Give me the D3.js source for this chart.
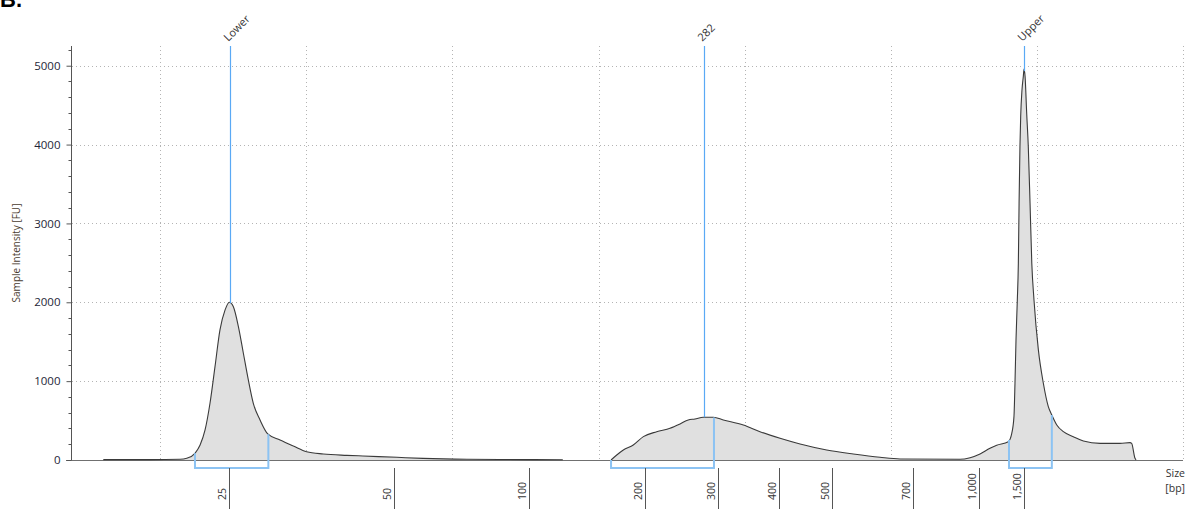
<!DOCTYPE html>
<html>
<head>
<meta charset="utf-8">
<script src="https://cdn.jsdelivr.net/npm/d3@7/dist/d3.min.js"></script>
<style>
  html, body { margin: 0; padding: 0; background: #fff; }
  svg { display: block; font-family: "Open Sans", "Noto Sans", "DejaVu Sans", sans-serif; }
</style>
</head>
<body>
<svg id="chart" width="1195" height="509"></svg>
<script>
// Electropherogram: migration time (s) vs. fluorescence (FU)
const curveTime = [
  46.12, 49.32, 51.37, 51.83, 52.39, 52.74, 53.08, 53.42, 53.76, 54.10, 54.45, 54.74,
  55.01, 55.36, 55.70, 56.04, 56.38, 56.84, 57.37, 58.21, 59.12, 60.03, 61.17, 62.77,
  63.88, 66.21, 67.99, 70.99, 73.25, 77.55,
  79.00,
  80.85, 81.24, 81.69, 82.37, 83.06, 83.97, 84.88, 85.57, 86.13, 86.59, 87.16, 87.85,
  88.53, 89.90, 91.04, 92.41, 93.78, 95.60, 97.42, 99.25, 100.62, 104.72, 105.41,
  106.09, 106.77, 107.23, 108.02, 108.26, 108.41, 108.48, 108.55, 108.64, 108.71,
  108.76, 108.82, 108.87, 108.96, 109.05, 109.10, 109.17, 109.28, 109.39, 109.51,
  109.63, 109.78, 110.08, 110.42, 110.76, 111.00, 111.34, 111.79, 112.47, 113.16,
  114.30, 115.66, 116.35, 116.46, 116.69, 116.76
];
const curveFU = [
  5, 5, 9, 21, 85, 190, 381, 723, 1184, 1650, 1903, 2001,
  1946, 1692, 1354, 1015, 719, 508, 330, 254, 178, 105, 76, 59,
  51, 34, 21, 9, 6, 4,
  null,
  0, 63, 127, 190, 296, 359, 402, 457, 508, 520, 542, 542,
  508, 444, 359, 275, 203, 127, 76, 34, 13, 9, 29,
  76, 148, 186, 232, 339, 550, 973, 1523, 2030, 2496,
  3257, 3976, 4356, 4695, 4865, 4958, 4865, 4399, 3976, 3257,
  2496, 2030, 1396, 973, 677, 571, 444, 359, 296, 241,
  211, 211, 220, 211, 21, 0
];

// Ladder calibration: fragment size (bp) and its migration time (s)
const ladderSize = [25, 50, 100, 200, 300, 400, 500, 700, 1000, 1500];
const ladderTime = [54.74, 66.03, 75.22, 83.19, 88.15, 92.34, 95.94, 101.53, 106.04, 109.12];

// Called peaks and their integration windows
const peakLabels = ["Lower", "282", "Upper"];
const peakTime = [54.81, 87.23, 109.12];
const regionStart = [52.39, 80.85, 108.07];
const regionEnd = [57.41, 87.89, 111.00];

const yTicks = [0, 1000, 2000, 3000, 4000, 5000];
const timeGrid = [50, 60, 70, 80, 90, 100, 110, 120];

const svg = d3.select("#chart");

const x = d3.scaleLinear().domain([43.91, 120]).range([71, 1183.4]);
const y = d3.scaleLinear().domain([0, 5250]).range([460, 46]);
const sizeToTime = d3.scaleLinear().domain(ladderSize).range(ladderTime);
const sizeScale = v => x(sizeToTime(v));

const data = curveTime.map((t, i) => ({ t, fu: curveFU[i] }));
const valid = data.filter(d => d.fu != null);
const bis = d3.bisector(d => d.t).left;
function valueAt(t) {
  const i = bis(valid, t);
  if (i <= 0) return valid[0].fu;
  if (i >= valid.length) return valid[valid.length - 1].fu;
  const a = valid[i - 1], b = valid[i];
  return a.fu + (b.fu - a.fu) * (t - a.t) / (b.t - a.t);
}

// Panel letter
svg.append("text").attr("x", 0).attr("y", 7)
  .attr("font-size", 22).attr("font-weight", "bold").attr("fill", "#000")
  .attr("font-family", "Liberation Sans, Arial, sans-serif").text("B.");

// Grid
const grid = svg.append("g").attr("stroke", "#b4b4b4").attr("stroke-dasharray", "1,3").attr("stroke-width", 1);
grid.selectAll("line.h").data(yTicks.filter(v => v > 0)).join("line")
  .attr("x1", 72).attr("x2", 1183).attr("y1", d => Math.round(y(d)) + 0.5).attr("y2", d => Math.round(y(d)) + 0.5);
grid.selectAll("line.v").data(timeGrid).join("line")
  .attr("x1", d => Math.round(x(d)) + 0.5).attr("x2", d => Math.round(x(d)) + 0.5)
  .attr("y1", 46).attr("y2", 460);

// Trace
const area = d3.area().defined(d => d.fu != null)
  .x(d => x(d.t)).y0(y(0)).y1(d => y(d.fu)).curve(d3.curveMonotoneX);
const line = d3.line().defined(d => d.fu != null)
  .x(d => x(d.t)).y(d => y(d.fu)).curve(d3.curveMonotoneX);
svg.append("path").datum(data).attr("d", area).attr("fill", "#e0e0e0");

// X baseline
svg.append("line").attr("x1", 66).attr("x2", 1183).attr("y1", 460.5).attr("y2", 460.5)
  .attr("stroke", "#707070").attr("stroke-width", 1);

svg.append("path").datum(data).attr("d", line).attr("fill", "none")
  .attr("stroke", "#3a3a3a").attr("stroke-width", 1.1);

// Peak markers
const peaks = peakLabels.map((label, i) => ({ label, t: peakTime[i], s: regionStart[i], e: regionEnd[i] }));
svg.selectAll("line.marker").data(peaks).join("line")
  .attr("x1", d => Math.round(x(d.t)) + 0.5).attr("x2", d => Math.round(x(d.t)) + 0.5)
  .attr("y1", 46).attr("y2", d => y(valueAt(d.t)))
  .attr("stroke", "#5aa9f5").attr("stroke-width", 1.2);

svg.selectAll("text.marker").data(peaks).join("text")
  .attr("transform", d => `translate(${x(d.t) - 2},42) rotate(-45)`)
  .attr("font-size", 11).attr("fill", "#333").text(d => d.label);

// Integration windows
svg.selectAll("path.region").data(peaks).join("path")
  .attr("d", d => {
    const x0 = x(d.s), x1 = x(d.e), yb = 468;
    return `M${x0},${y(valueAt(d.s))}V${yb}H${x1}V${y(valueAt(d.e))}`;
  })
  .attr("fill", "none").attr("stroke", "#8cc3f3").attr("stroke-width", 2);

// Y axis
const yAxis = d3.axisLeft(y).tickValues(yTicks).tickFormat(d3.format("d"))
  .tickSize(5).tickPadding(6).tickSizeOuter(0);
const gy = svg.append("g").attr("transform", "translate(71.5,0)").call(yAxis);
gy.select(".domain").attr("stroke", "#555").attr("d", `M0,46V460`);
gy.selectAll(".tick line").attr("stroke", "#555");
gy.selectAll(".tick text").attr("font-size", 11.5).attr("fill", "#1e2638")
  .attr("font-family", "Open Sans, sans-serif");
const minor = d3.range(200, 5250, 200).filter(v => v % 1000 !== 0);
gy.selectAll("line.minor").data(minor).join("line")
  .attr("x1", -3).attr("x2", 0)
  .attr("y1", d => Math.round(y(d)) + 0.5).attr("y2", d => Math.round(y(d)) + 0.5)
  .attr("stroke", "#555");

svg.append("text")
  .attr("transform", "translate(20,253) rotate(-90)")
  .attr("text-anchor", "middle").attr("font-size", 10).attr("fill", "#4a3c30")
  .text("Sample Intensity [FU]");

// Size axis (bp)
const gx = svg.append("g").attr("transform", "translate(0,468)");
const sizeTicks = gx.selectAll("g.tick").data(ladderSize).join("g")
  .attr("transform", d => `translate(${Math.round(sizeScale(d)) + 0.5},0)`);
sizeTicks.append("line").attr("y1", 0).attr("y2", 45).attr("stroke", "#555");
sizeTicks.append("text")
  .attr("transform", "rotate(-90)").attr("x", -32).attr("y", -4)
  .attr("text-anchor", "start").attr("font-size", 10.5).attr("fill", "#333")
  .text(d3.format(","));

svg.append("text").attr("x", 1185).attr("y", 477).attr("text-anchor", "end")
  .attr("font-size", 10.5).attr("fill", "#333").text("Size");
svg.append("text").attr("x", 1185).attr("y", 492).attr("text-anchor", "end")
  .attr("font-size", 10.5).attr("fill", "#333").text("[bp]");
</script>
</body>
</html>
